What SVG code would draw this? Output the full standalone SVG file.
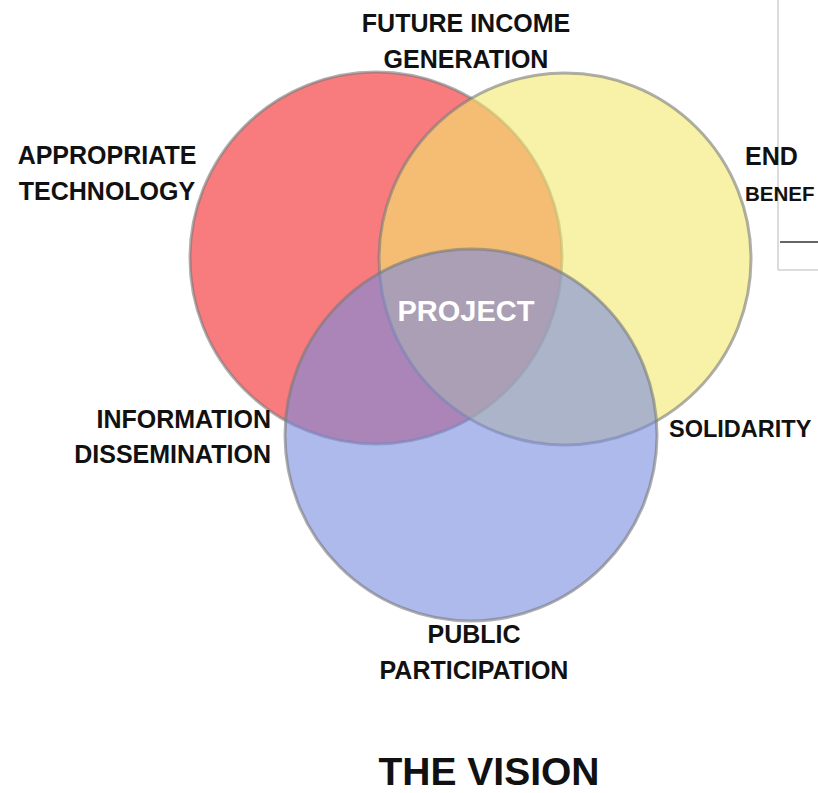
<svg xmlns="http://www.w3.org/2000/svg" width="818" height="793" viewBox="0 0 818 793">
<style>
.c{stroke:#7a7a7a;stroke-opacity:0.6;stroke-width:3;fill-opacity:0.6}
.t{font-family:"Liberation Sans",Arial,sans-serif;font-weight:bold;font-size:25px;fill:#111}
.box{stroke:#d0d0d0;stroke-width:1.5;fill:none}
</style>
<rect width="818" height="793" fill="#fff"/>
<g id="frame">
<line class="box" x1="778" y1="0" x2="778" y2="270"/>
<line class="box" x1="778" y1="270" x2="818" y2="270"/>
<line x1="780" y1="242" x2="818" y2="242" stroke="#333" stroke-width="1.5"/>
</g>
<g id="red"><circle class="c" cx="376" cy="258" r="186" fill="rgb(243,37,40)"/></g>
<g id="yellow"><circle class="c" cx="565" cy="259" r="186" fill="rgb(243,233,110)"/></g>
<g id="blue"><circle class="c" cx="471" cy="435" r="186" fill="rgb(120,138,223)"/></g>
<g id="project"><text x="466" y="321" text-anchor="middle" class="t" style="font-size:29px;fill:#fff">PROJECT</text></g>
<g id="future"><text class="t" x="466" y="32" text-anchor="middle">FUTURE INCOME</text><text class="t" x="466" y="68" text-anchor="middle">GENERATION</text></g>
<g id="approp"><text class="t" x="107" y="164" text-anchor="middle">APPROPRIATE</text><text class="t" x="107" y="200" text-anchor="middle">TECHNOLOGY</text></g>
<g id="endben"><text class="t" x="745" y="165">END</text><text class="t" x="745" y="201" style="font-size:20.5px">BENEF</text></g>
<g id="info"><text class="t" x="271" y="428" text-anchor="end">INFORMATION</text><text class="t" x="271" y="463" text-anchor="end">DISSEMINATION</text></g>
<g id="solid"><text class="t" x="669" y="437" style="font-size:23.5px">SOLIDARITY</text></g>
<g id="public"><text class="t" x="474" y="643" text-anchor="middle">PUBLIC</text><text class="t" x="474" y="679" text-anchor="middle">PARTICIPATION</text></g>
<g id="title"><text class="t" x="489" y="785" text-anchor="middle" style="font-size:39px">THE VISION</text></g>
</svg>
